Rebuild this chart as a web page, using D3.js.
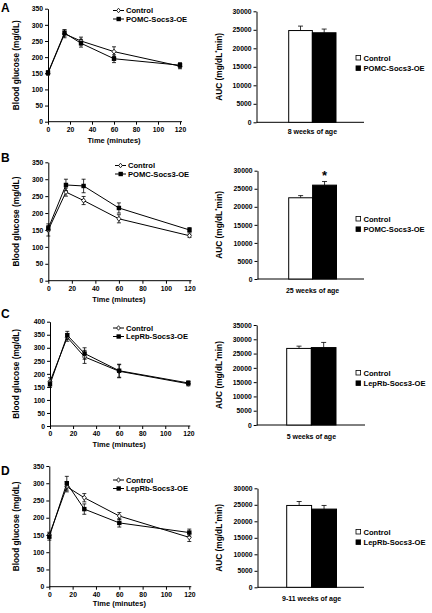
<!DOCTYPE html>
<html><head><meta charset="utf-8">
<script src="https://cdn.jsdelivr.net/npm/d3@7"></script>
<style>body{margin:0;background:#fff}svg{display:block}text{font-family:"Liberation Sans",Arial,sans-serif;font-weight:bold;fill:#000}</style>
</head><body>
<svg id="c" width="432" height="613"></svg>
<script>
const times = [0, 15, 30, 60, 120];
const panelLetters = ["A", "B", "C", "D"];
const mutantNames = ["POMC-Socs3-OE", "POMC-Socs3-OE", "LepRb-Socs3-OE", "LepRb-Socs3-OE"];
const ageLabels = ["8 weeks of age", "25 weeks of age", "5 weeks of age", "9-11 weeks of age"];
const glucoseMax = [350, 350, 400, 350];
const aucMax = [30000, 30000, 35000, 30000];

const ctrlA = [150, 272, 250, 217, 172], ctrlAErr = [6, 12, 12, 15, 8];
const mutA = [152, 275, 243, 195, 175], mutAErr = [6, 10, 12, 12, 8];
const ctrlB = [150, 262, 237, 183, 133], ctrlBErr = [18, 12, 12, 12, 5];
const mutB = [155, 283, 280, 215, 150], mutBErr = [8, 17, 20, 15, 7];
const ctrlC = [170, 340, 265, 210, 162], ctrlCErr = [15, 15, 25, 25, 8];
const mutC = [160, 348, 278, 212, 165], mutCErr = [12, 15, 22, 25, 8];
const ctrlD = [150, 290, 258, 205, 143], ctrlDErr = [8, 15, 12, 10, 12];
const mutD = [145, 300, 225, 185, 157], mutDErr = [10, 20, 15, 12, 10];

const aucCtrl = [24800, 22500, 26800, 24800], aucCtrlErr = [1200, 600, 800, 1200];
const aucMut = [24200, 26000, 27100, 23700], aucMutErr = [1000, 1000, 1800, 1100];
const aucSig = [false, true, false, false];

const ctrlSeries = [ctrlA, ctrlB, ctrlC, ctrlD], ctrlErrs = [ctrlAErr, ctrlBErr, ctrlCErr, ctrlDErr];
const mutSeries = [mutA, mutB, mutC, mutD], mutErrs = [mutAErr, mutBErr, mutCErr, mutDErr];

const lineLayout = [
  {x0: 48, x1: 180, yTop: 8.7, yBot: 121.7, letterY: 12, legY: 10.5, legX: 113, xlabY: 143},
  {x0: 48.3, x1: 189.5, yTop: 162.3, yBot: 280.7, letterY: 162, legY: 165.5, legX: 115, xlabY: 302},
  {x0: 50, x1: 188.3, yTop: 321.7, yBot: 426, letterY: 318, legY: 328, legX: 113, xlabY: 447},
  {x0: 49.3, x1: 189.3, yTop: 466, yBot: 586.7, letterY: 475, legY: 480, legX: 113, xlabY: 606}
];
const barLayout = [
  {ax: 256.5, xEnd: 364, yTop: 11.3, yBot: 122.3, b0: 288.7, b1: 312, b2: 336, labY: 134, legY: 58},
  {ax: 257.5, xEnd: 364, yTop: 170.7, yBot: 279, b0: 288.7, b1: 312.5, b2: 336.5, labY: 293, legY: 219},
  {ax: 256.7, xEnd: 365, yTop: 325, yBot: 425, b0: 286.7, b1: 310.5, b2: 336, labY: 439, legY: 373},
  {ax: 257.5, xEnd: 364, yTop: 488.3, yBot: 587.3, b0: 286.7, b1: 311.3, b2: 336.5, labY: 601, legY: 532}
];

const svg = d3.select("#c");

function styleAxis(g) {
  g.selectAll("path.domain").attr("stroke", "#000").attr("stroke-width", 1);
  g.selectAll(".tick line").attr("stroke", "#000");
  g.selectAll(".tick text").style("font-family", '"Liberation Sans",Arial,sans-serif').style("font-weight", "bold").style("font-size", "6.8px").attr("fill", "#000");
}

for (let p = 0; p < 4; p++) {
  const L = lineLayout[p];
  const x = d3.scaleLinear().domain([0, 120]).range([L.x0, L.x1]);
  const y = d3.scaleLinear().domain([0, glucoseMax[p]]).range([L.yBot, L.yTop]);
  const g = svg.append("g");

  g.append("text").attr("x", 1).attr("y", L.letterY).style("font-size", "12px").text(panelLetters[p]);

  const ya = g.append("g").attr("transform", `translate(${L.x0},0)`)
    .call(d3.axisLeft(y).tickValues(d3.range(0, glucoseMax[p] + 1, 50)).tickSize(3).tickSizeOuter(0).tickPadding(2));
  styleAxis(ya);
  const xa = g.append("g").attr("transform", `translate(0,${L.yBot})`)
    .call(d3.axisBottom(x).tickValues([0, 20, 40, 60, 80, 100, 120]).tickSize(3).tickSizeOuter(0).tickPadding(2));
  styleAxis(xa);
  xa.select("path.domain").attr("d", `M${L.x0},0H${L.x1 + 2}`);

  g.append("text").attr("transform", `translate(19,${(L.yTop + L.yBot) / 2}) rotate(-90)`)
    .attr("text-anchor", "middle").style("font-size", "8.3px").text("Blood glucose (mg/dL)");
  g.append("text").attr("x", (L.x0 + L.x1) / 2).attr("y", L.xlabY).attr("text-anchor", "middle")
    .style("font-size", "7.5px").text("Time (minutes)");

  const seriesList = [
    {vals: ctrlSeries[p], errs: ctrlErrs[p], filled: false},
    {vals: mutSeries[p], errs: mutErrs[p], filled: true}
  ];
  const line = d3.line().x(d => x(d.t)).y(d => y(d.v));
  seriesList.forEach(s => {
    const pts = times.map((t, i) => ({t, v: s.vals[i], e: s.errs[i]}));
    g.append("path").datum(pts).attr("d", line).attr("fill", "none").attr("stroke", "#000").attr("stroke-width", 1);
    pts.forEach(d => {
      const cx = x(d.t);
      g.append("line").attr("x1", cx).attr("x2", cx).attr("y1", y(d.v - d.e)).attr("y2", y(d.v + d.e)).attr("stroke", "#000").attr("stroke-width", 0.8);
      [d.v - d.e, d.v + d.e].forEach(v => g.append("line").attr("x1", cx - 2).attr("x2", cx + 2).attr("y1", y(v)).attr("y2", y(v)).attr("stroke", "#000").attr("stroke-width", 0.8));
    });
    pts.forEach(d => {
      const cx = x(d.t), cy = y(d.v);
      if (s.filled) {
        g.append("rect").attr("x", cx - 2.2).attr("y", cy - 2.2).attr("width", 4.4).attr("height", 4.4).attr("fill", "#000");
      } else {
        g.append("path").attr("d", `M${cx},${cy - 2.5}L${cx + 2},${cy}L${cx},${cy + 2.5}L${cx - 2},${cy}Z`)
          .attr("fill", "#fff").attr("stroke", "#000").attr("stroke-width", 0.8);
      }
    });
  });

  const lx = L.legX, names = ["Control", mutantNames[p]];
  names.forEach((n, i) => {
    const ly = L.legY + i * 8.5;
    g.append("line").attr("x1", lx).attr("x2", lx + 11).attr("y1", ly).attr("y2", ly).attr("stroke", "#000").attr("stroke-width", 1);
    if (i === 0) {
      g.append("path").attr("d", `M${lx + 5.5},${ly - 2.3}L${lx + 7.3},${ly}L${lx + 5.5},${ly + 2.3}L${lx + 3.7},${ly}Z`).attr("fill", "#fff").attr("stroke", "#000").attr("stroke-width", 0.8);
    } else {
      g.append("rect").attr("x", lx + 3.5).attr("y", ly - 2.2).attr("width", 4.4).attr("height", 4.4).attr("fill", "#000");
    }
    g.append("text").attr("x", lx + 13).attr("y", ly + 2.7).style("font-size", "7.6px").text(n);
  });

  const B = barLayout[p];
  const yb = d3.scaleLinear().domain([0, aucMax[p]]).range([B.yBot, B.yTop]);
  const xb = d3.scaleBand().domain(["Control", mutantNames[p]]).range([B.b0, B.b2]).padding(0);
  const gb = svg.append("g");
  const yba = gb.append("g").attr("transform", `translate(${B.ax},0)`)
    .call(d3.axisLeft(yb).tickValues(d3.range(0, aucMax[p] + 1, 5000)).tickFormat(d3.format("d")).tickSize(3).tickSizeOuter(0).tickPadding(2));
  styleAxis(yba);
  gb.append("line").attr("x1", B.ax).attr("x2", B.xEnd).attr("y1", B.yBot).attr("y2", B.yBot).attr("stroke", "#000");

  const bars = [
    {k: "Control", v: aucCtrl[p], e: aucCtrlErr[p], fill: "#fff"},
    {k: mutantNames[p], v: aucMut[p], e: aucMutErr[p], fill: "#000"}
  ];
  bars.forEach(b => {
    const bx = xb(b.k), bw = xb.bandwidth();
    const cx = bx + bw / 2;
    gb.append("line").attr("x1", cx).attr("x2", cx).attr("y1", yb(b.v)).attr("y2", yb(b.v + b.e)).attr("stroke", "#000").attr("stroke-width", 0.8);
    gb.append("line").attr("x1", cx - 2.5).attr("x2", cx + 2.5).attr("y1", yb(b.v + b.e)).attr("y2", yb(b.v + b.e)).attr("stroke", "#000").attr("stroke-width", 0.8);
    gb.append("rect").attr("x", bx).attr("y", yb(b.v)).attr("width", bw).attr("height", B.yBot - yb(b.v))
      .attr("fill", b.fill).attr("stroke", "#000").attr("stroke-width", 1);
  });
  if (aucSig[p]) {
    const cx = xb(mutantNames[p]) + xb.bandwidth() / 2;
    gb.append("text").attr("x", cx).attr("y", yb(aucMut[p] + aucMutErr[p]) - 2).attr("text-anchor", "middle").style("font-size", "13px").text("*");
  }
  gb.append("text").attr("x", (B.b0 + B.b2) / 2).attr("y", B.labY).attr("text-anchor", "middle").style("font-size", "7px").text(ageLabels[p]);
  const yt = gb.append("text").attr("transform", `translate(222,${(B.yTop + B.yBot) / 2}) rotate(-90)`).attr("text-anchor", "middle").style("font-size", "8.3px");
  yt.append("tspan").text("AUC (mg/dL");
  yt.append("tspan").attr("dy", -3).style("font-size", "6px").text("*");
  yt.append("tspan").attr("dy", 3).text("min)");

  bars.forEach((b, i) => {
    const ly = B.legY + i * 10.5;
    gb.append("rect").attr("x", 356).attr("y", ly - 2.6).attr("width", 4.6).attr("height", 4.6).attr("fill", b.fill).attr("stroke", "#000").attr("stroke-width", 0.8);
    gb.append("text").attr("x", 363.5).attr("y", ly + 2.5).style("font-size", "7.6px").text(b.k);
  });
}
</script>
</body></html>
